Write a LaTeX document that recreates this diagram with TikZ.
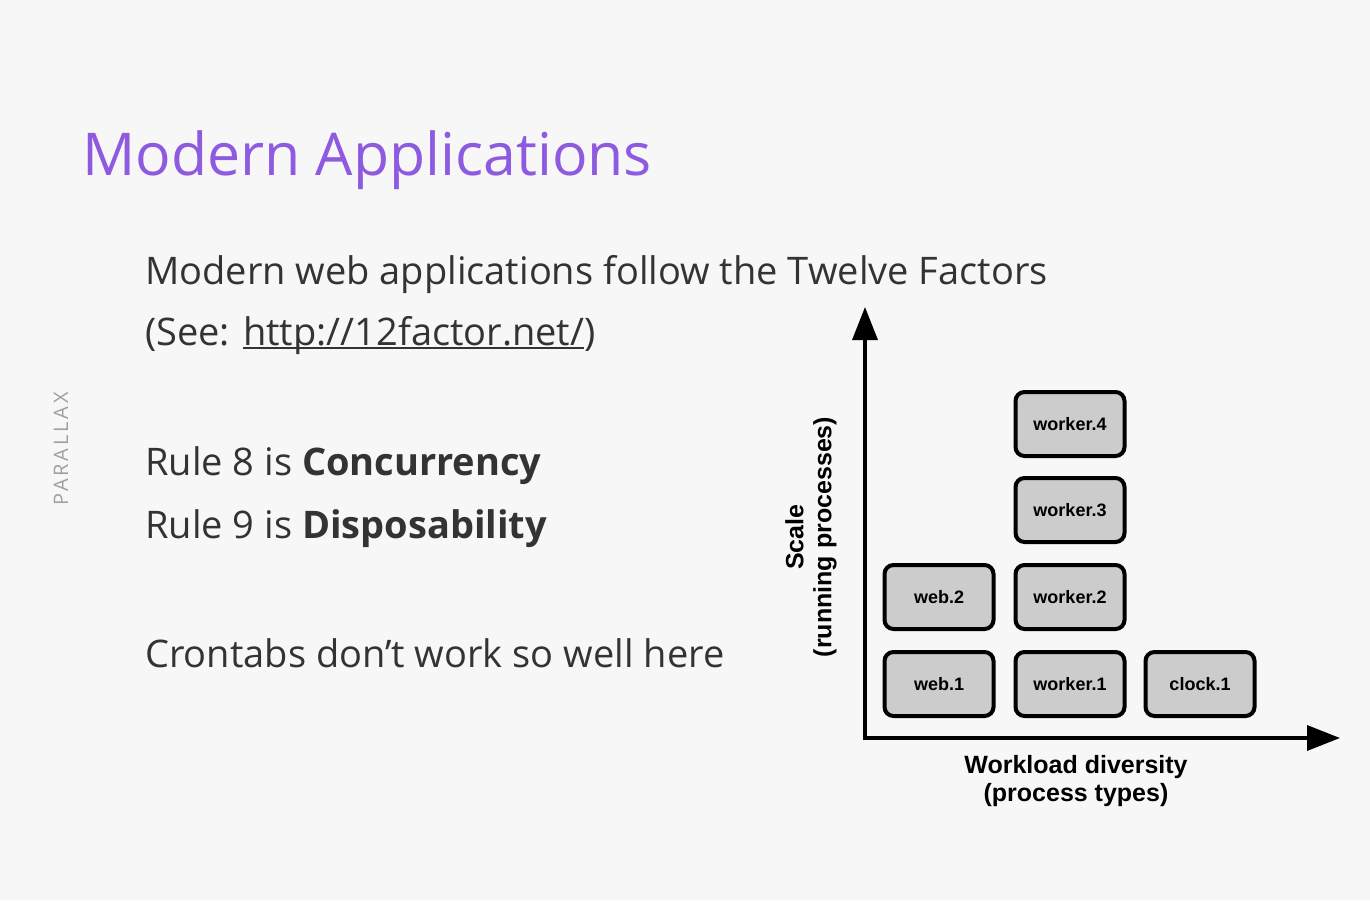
\documentclass[tikz,border=0pt]{standalone}
\usepackage{fontspec}
\setmainfont{Open Sans}
\newfontfamily\arialfont{Liberation Sans}
\newfontfamily\logofont[LetterSpace=14]{Open Sans}
\usetikzlibrary{arrows.meta}
\definecolor{titlecolor}{RGB}{141,90,224}
\definecolor{textcolor}{RGB}{51,51,51}
\definecolor{boxfill}{RGB}{204,204,204}
\definecolor{bgcolor}{RGB}{247,247,247}
\definecolor{logocolor}{RGB}{160,160,160}
\newcommand{\underlink}[1]{\setbox0\hbox{#1}\rlap{\rule[-4pt]{\wd0}{2pt}}\box0}

\begin{document}
\begin{tikzpicture}[x=1pt,y=-1pt,
  body/.style={anchor=base west,inner sep=0pt,text=textcolor,font=\fontsize{38}{42}\selectfont},
  process/.style={draw,fill=boxfill,line width=4pt,rounded corners=9pt,minimum width=109pt,minimum height=64pt,font=\arialfont\bfseries\fontsize{18}{20}\selectfont},
  axis/.style={line width=3.5pt,{Triangle[length=33pt,width=25pt]}-{Triangle[length=33pt,width=25pt]}},
  axislabel/.style={align=center,font=\arialfont\bfseries\fontsize{25}{28}\selectfont}]
\fill[bgcolor] (0,0) rectangle (1370,900);
\useasboundingbox (0,0) rectangle (1370,900);

% slide text
\node[anchor=base west,inner sep=0pt,text=titlecolor,font=\fontsize{59}{66}\selectfont] (title) at (82,175) {Modern Applications};
\node[body] (line1) at (145,284) {Modern web applications follow the Twelve Factors};
\node[body] (line2) at (145,345) {(See: \underlink{http://12factor.net/})};
\node[body] (rule8) at (145,475) {Rule 8 is \textbf{Concurrency}};
\node[body] (rule9) at (145,538) {Rule 9 is \textbf{Disposability}};
\node[body] (cron) at (145,667) {Crontabs don’t work so well here};
\node[rotate=90,text=logocolor,font=\logofont\fontsize{20}{24}\selectfont] (logo) at (61,449) {PARALLAX};

% process diagram
\coordinate (origin) at (865,738);
\coordinate (ytip) at (865,307);
\coordinate (xtip) at (1340,738);
\draw[axis] (ytip) -- (origin) -- (xtip);

\node[process] (web1) at (939,684) {web.1};
\node[process] (web2) at (939,597) {web.2};
\node[process] (worker1) at (1070,684) {worker.1};
\node[process] (worker2) at (1070,597) {worker.2};
\node[process] (worker3) at (1070,510) {worker.3};
\node[process] (worker4) at (1070,424) {worker.4};
\node[process] (clock1) at (1200,684) {clock.1};

\node[axislabel] (xlabel) at (1076,781) {Workload diversity\\(process types)};
\node[axislabel,rotate=90] (ylabel) at (811,537) {Scale\\(running processes)};
\end{tikzpicture}
\end{document}
